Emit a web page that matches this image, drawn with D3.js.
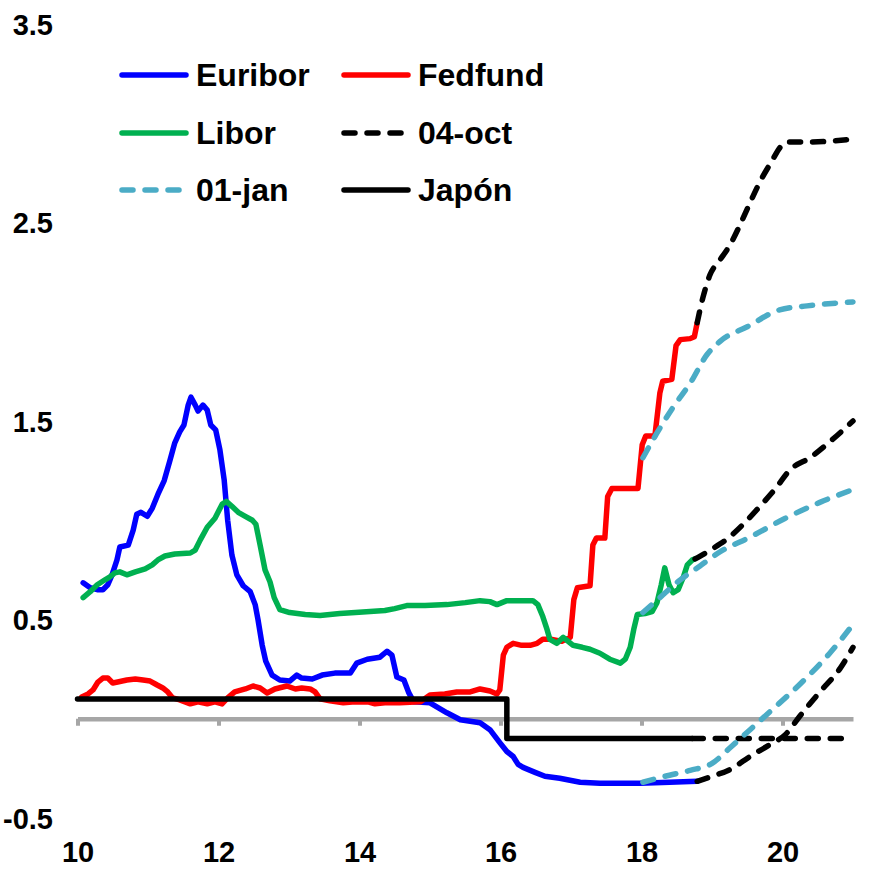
<!DOCTYPE html>
<html>
<head>
<meta charset="utf-8">
<script src="https://cdn.jsdelivr.net/npm/d3@7"></script>
<style>
  html, body { margin: 0; padding: 0; background: #fff; }
  svg text { font-family: "Liberation Sans", Arial, sans-serif; font-weight: bold; fill: #000; }
</style>
</head>
<body>
<svg id="chart" width="876" height="872"></svg>
<script>
// ---------- DATA (x = year, 10 = 2010; y = %) ----------
const euriborX = [10.08,10.18,10.28,10.36,10.43,10.49,10.56,10.60,10.72,10.79,10.84,10.90,10.99,11.06,11.14,11.23,11.31,11.38,11.45,11.51,11.57,11.61,11.67,11.71,11.78,11.84,11.89,11.96,12.02,12.08,12.13,12.19,12.26,12.35,12.45,12.52,12.56,12.62,12.67,12.76,12.87,13.01,13.11,13.18,13.33,13.47,13.65,13.87,13.96,14.11,14.29,14.39,14.46,14.53,14.63,14.70,14.77,15.00,15.24,15.43,15.71,15.85,15.99,16.09,16.18,16.25,16.32,16.49,16.63,16.84,17.13,17.41,17.98,18.40,18.79];
const euriborY = [0.685,0.66,0.65,0.65,0.675,0.725,0.80,0.865,0.875,0.95,1.03,1.04,1.02,1.06,1.13,1.20,1.30,1.39,1.445,1.48,1.58,1.62,1.58,1.55,1.58,1.555,1.48,1.455,1.355,1.205,1.00,0.825,0.725,0.67,0.64,0.575,0.50,0.37,0.29,0.22,0.195,0.19,0.22,0.205,0.20,0.22,0.23,0.23,0.28,0.30,0.31,0.34,0.32,0.21,0.195,0.13,0.085,0.08,0.03,-0.005,-0.02,-0.055,-0.12,-0.165,-0.19,-0.23,-0.245,-0.27,-0.29,-0.30,-0.32,-0.325,-0.325,-0.32,-0.315];

const fedX = [10.06,10.15,10.22,10.29,10.36,10.43,10.50,10.57,10.70,10.82,10.93,11.03,11.13,11.21,11.28,11.35,11.45,11.60,11.71,11.84,11.95,12.05,12.13,12.23,12.38,12.49,12.59,12.69,12.80,12.97,13.09,13.18,13.30,13.37,13.44,13.58,13.77,13.94,14.12,14.22,14.36,14.57,14.86,15.00,15.21,15.38,15.57,15.71,15.85,15.95,15.99,16.04,16.09,16.18,16.30,16.42,16.52,16.60,16.73,16.87,16.99,17.04,17.09,17.27,17.31,17.36,17.48,17.52,17.58,17.77,17.95,18.01,18.06,18.19,18.26,18.30,18.43,18.49,18.55,18.69,18.75,18.79];
const fedY = [0.11,0.125,0.145,0.185,0.205,0.205,0.18,0.185,0.195,0.20,0.195,0.19,0.17,0.155,0.135,0.105,0.095,0.075,0.085,0.075,0.085,0.075,0.105,0.135,0.15,0.165,0.155,0.13,0.15,0.165,0.15,0.155,0.15,0.135,0.10,0.09,0.08,0.085,0.085,0.075,0.08,0.08,0.085,0.12,0.125,0.135,0.135,0.15,0.14,0.125,0.145,0.32,0.36,0.38,0.37,0.37,0.38,0.40,0.40,0.39,0.41,0.60,0.66,0.67,0.875,0.91,0.91,1.12,1.16,1.16,1.16,1.38,1.425,1.425,1.64,1.70,1.71,1.88,1.91,1.915,1.925,1.995];

const liborX = [10.08,10.18,10.28,10.39,10.46,10.53,10.60,10.70,10.82,10.96,11.06,11.14,11.24,11.38,11.60,11.67,11.74,11.84,11.95,12.05,12.11,12.19,12.28,12.38,12.48,12.53,12.59,12.66,12.73,12.79,12.87,13.01,13.23,13.44,13.72,13.94,14.15,14.36,14.50,14.67,14.93,15.24,15.50,15.71,15.85,15.95,16.09,16.28,16.46,16.53,16.60,16.66,16.70,16.80,16.89,16.96,17.03,17.16,17.27,17.41,17.55,17.70,17.77,17.84,17.89,17.94,18.05,18.15,18.22,18.28,18.33,18.39,18.45,18.52,18.59,18.65,18.72,18.76];
const liborY = [0.61,0.64,0.675,0.70,0.715,0.735,0.74,0.725,0.74,0.755,0.775,0.80,0.82,0.83,0.835,0.85,0.90,0.965,1.01,1.08,1.095,1.07,1.04,1.02,1.00,0.98,0.875,0.75,0.69,0.61,0.55,0.535,0.525,0.52,0.53,0.535,0.54,0.545,0.555,0.57,0.57,0.575,0.585,0.595,0.59,0.575,0.595,0.595,0.595,0.575,0.515,0.45,0.40,0.38,0.41,0.39,0.37,0.36,0.35,0.33,0.30,0.28,0.30,0.36,0.45,0.525,0.53,0.54,0.585,0.675,0.76,0.675,0.635,0.65,0.71,0.775,0.80,0.805];

const japanX = [10.0,16.09,16.09,18.72];
const japanY = [0.1,0.1,-0.1,-0.1];

// Forecasts "04-oct"
const oct04FedX = [18.79,18.87,18.97,19.11,19.26,19.40,19.54,19.68,19.85,19.97,20.06,20.35,21.0];
const oct04FedY = [1.995,2.12,2.235,2.31,2.39,2.49,2.60,2.705,2.81,2.88,2.905,2.905,2.92];
const oct04LiborX = [18.76,19.00,19.23,19.47,19.68,19.89,20.11,20.39,20.67,21.0];
const oct04LiborY = [0.805,0.855,0.91,0.99,1.07,1.155,1.255,1.315,1.395,1.50];
const oct04EuriborX = [18.79,19.00,19.26,19.54,19.82,20.04,20.25,20.53,20.82,21.0];
const oct04EuriborY = [-0.315,-0.29,-0.255,-0.19,-0.13,-0.08,0.015,0.135,0.255,0.36];
const oct04JapanX = [18.72,21.0];
const oct04JapanY = [-0.1,-0.1];

// Forecasts "01-jan"
const jan01FedX = [18.02,18.22,18.45,18.69,18.93,19.11,19.50,19.96,20.35,21.0];
const jan01FedY = [1.315,1.44,1.57,1.69,1.835,1.90,1.975,2.06,2.08,2.10];
const jan01LiborX = [18.02,18.26,18.55,18.83,19.11,19.54,20.04,20.53,21.0];
const jan01LiborY = [0.535,0.61,0.70,0.77,0.84,0.915,1.01,1.09,1.155];
const jan01EuriborX = [18.02,18.33,18.69,19.00,19.26,19.54,19.82,20.25,20.67,21.0];
const jan01EuriborY = [-0.32,-0.29,-0.26,-0.225,-0.145,-0.055,0.035,0.175,0.33,0.475];

const xTicks = [10,12,14,16,18,20];
const yTicks = [-0.5,0.5,1.5,2.5,3.5];
const yTickLabels = ["-0.5","0.5","1.5","2.5","3.5"];

const legendItems = [
  {name:"Euribor", color:"#0000ff", dash:null},
  {name:"Fedfund", color:"#ff0000", dash:null},
  {name:"Libor", color:"#00b050", dash:null},
  {name:"04-oct", color:"#000000", dash:"11,12"},
  {name:"01-jan", color:"#4bacc6", dash:"11,12"},
  {name:"Japón", color:"#000000", dash:null}
];

// ---------- CHART ----------
const svg = d3.select("#chart");
const x = d3.scaleLinear().domain([10,21]).range([77.5,853]);
const y = d3.scaleLinear().domain([-0.5,3.5]).range([818,24]);

// y labels
const yAxis = svg.append("g").attr("transform","translate(53,0)")
  .call(d3.axisLeft(y).tickValues(yTicks).tickSize(0).tickPadding(0)
    .tickFormat((d,i)=>yTickLabels[i]));
yAxis.select(".domain").remove();
yAxis.selectAll("text").style("font-size","29px").attr("dy","0.36em");

// zero axis line with ticks
const xAxis = svg.append("g").attr("transform",`translate(0,${y(0)})`)
  .call(d3.axisBottom(x).tickValues(xTicks).tickSize(7).tickSizeOuter(0).tickFormat(""));
xAxis.select(".domain").attr("stroke","#a6a6a6").attr("stroke-width",4.5);
xAxis.selectAll(".tick line").attr("stroke","#a6a6a6").attr("stroke-width",4);

// x labels
const xLab = svg.append("g").attr("transform","translate(0,842)")
  .call(d3.axisBottom(x).tickValues(xTicks).tickSize(0).tickPadding(0).tickFormat(d3.format("d")));
xLab.select(".domain").remove();
xLab.selectAll("text").style("font-size","29px").attr("dy","0.70em");

function draw(xs, ys, color, dash, curve){
  const pts = xs.map((v,i)=>[v, ys[i]]);
  const line = d3.line().x(d=>x(d[0])).y(d=>y(d[1])).curve(curve || d3.curveLinear);
  const p = svg.append("path").datum(pts).attr("d", line)
    .attr("fill","none").attr("stroke",color).attr("stroke-width",5.5)
    .attr("stroke-linejoin","round").attr("stroke-linecap","round");
  if (dash) p.attr("stroke-dasharray", dash);
}

draw(euriborX, euriborY, "#0000ff");
draw(fedX, fedY, "#ff0000");
draw(liborX, liborY, "#00b050");
draw(oct04FedX, oct04FedY, "#000000", "11,12", d3.curveMonotoneX);
draw(oct04LiborX, oct04LiborY, "#000000", "11,12", d3.curveMonotoneX);
draw(oct04EuriborX, oct04EuriborY, "#000000", "11,12", d3.curveMonotoneX);
draw(oct04JapanX, oct04JapanY, "#000000", "11,12");
draw(jan01FedX, jan01FedY, "#4bacc6", "11,12", d3.curveMonotoneX);
draw(jan01LiborX, jan01LiborY, "#4bacc6", "11,12", d3.curveMonotoneX);
draw(jan01EuriborX, jan01EuriborY, "#4bacc6", "11,12", d3.curveMonotoneX);
draw(japanX, japanY, "#000000");

// legend
const legRowsY = [75,133,190];
const legColX = [122,344];
const leg = svg.append("g");
legendItems.forEach((it,i)=>{
  const col = i % 2, row = Math.floor(i/2);
  const lx = legColX[col], ly = legRowsY[row];
  leg.append("line").attr("x1",lx).attr("x2",lx+64).attr("y1",ly).attr("y2",ly)
    .attr("stroke",it.color).attr("stroke-width",5.5).attr("stroke-linecap","round")
    .attr("stroke-dasharray", it.dash);
  leg.append("text").attr("x",lx+74).attr("y",ly+11).style("font-size","32px").text(it.name);
});
</script>
</body>
</html>
